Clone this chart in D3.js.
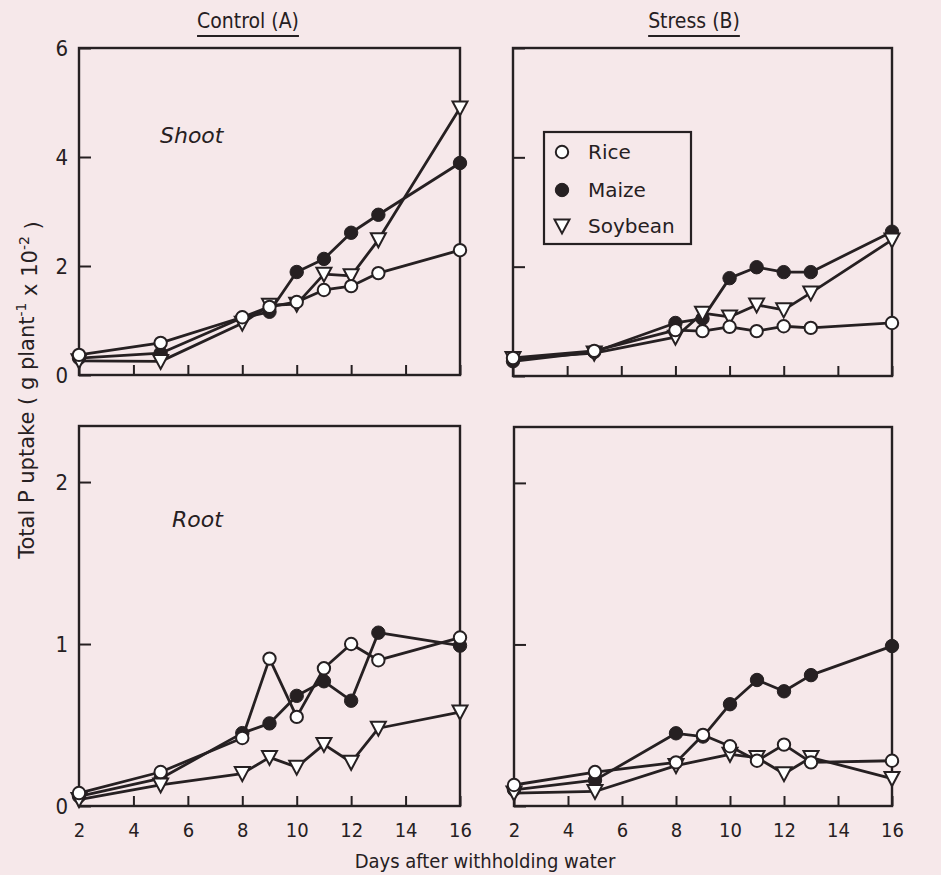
<!DOCTYPE html>
<html>
<head>
<meta charset="utf-8">
<script src="https://cdn.jsdelivr.net/npm/d3@7/dist/d3.min.js"></script>
<style>
  html, body { margin: 0; padding: 0; background: #f6e8ea; }
  svg { display: block; }
</style>
</head>
<body>
<svg id="chart" width="941" height="875"></svg>
<script>
// Days after withholding water at which P uptake was sampled
const days = [2, 5, 8, 9, 10, 11, 12, 13, 16];

// Total P uptake (g plant-1 x 10-2), shoot, control
const shootControlRice    = [0.37, 0.59, 1.06, 1.25, 1.34, 1.56, 1.63, 1.87, 2.29];
const shootControlMaize   = [0.31, 0.40, 1.05, 1.16, 1.89, 2.13, 2.61, 2.94, 3.89];
const shootControlSoybean = [0.26, 0.25, 0.95, 1.28, 1.30, 1.85, 1.82, 2.48, 4.90];

// shoot, water stress
const shootStressRice    = [0.33, 0.46, 0.84, 0.82, 0.90, 0.82, 0.91, 0.88, 0.97];
const shootStressMaize   = [0.27, 0.44, 0.97, 1.05, 1.79, 1.99, 1.90, 1.90, 2.64];
const shootStressSoybean = [0.32, 0.42, 0.71, 1.15, 1.08, 1.30, 1.21, 1.52, 2.49];

// root, control
const rootControlRice    = [0.08, 0.21, 0.42, 0.91, 0.55, 0.85, 1.00, 0.90, 1.04];
const rootControlMaize   = [0.06, 0.17, 0.45, 0.51, 0.68, 0.77, 0.65, 1.07, 0.99];
const rootControlSoybean = [0.04, 0.13, 0.20, 0.30, 0.24, 0.38, 0.27, 0.48, 0.58];

// root, water stress (no soybean sample on day 9)
const rootStressRice    = [0.13, 0.21, 0.27, 0.44, 0.37, 0.28, 0.38, 0.27, 0.28];
const rootStressMaize   = [0.10, 0.16, 0.45, 0.43, 0.63, 0.78, 0.71, 0.81, 0.99];
const rootStressSoybean = [0.08, 0.09, 0.25, null, 0.32, 0.30, 0.20, 0.30, 0.17];

const crops = ["Rice", "Maize", "Soybean"];
const xTicks = [2, 4, 6, 8, 10, 12, 14, 16];
const shootYTicks = [0, 2, 4, 6];
const rootYTicks = [0, 1, 2];
const columnTitles = ["Control (A)", "Stress (B)"];
const xTitle = "Days after withholding water";

const ink = "#262022";
const bg = "#f6e8ea";
const condensed = "'DejaVu Sans Condensed', 'DejaVu Sans', sans-serif";
const plain = "'DejaVu Sans', sans-serif";

const svg = d3.select("#chart");

const panels = [
  { x0: 79,  x1: 460, y0: 48,  y1: 375, yMax: 6,    yTicks: shootYTicks, label: "Shoot", labelXY: [160, 143],
    series: [shootControlRice, shootControlMaize, shootControlSoybean], yLabels: true, xLabels: false },
  { x0: 513, x1: 892, y0: 48,  y1: 376, yMax: 6,    yTicks: shootYTicks, legend: true,
    series: [shootStressRice, shootStressMaize, shootStressSoybean], yLabels: false, xLabels: false },
  { x0: 79,  x1: 460, y0: 426, y1: 806, yMax: 2.346, yTicks: rootYTicks, label: "Root", labelXY: [172, 527],
    series: [rootControlRice, rootControlMaize, rootControlSoybean], yLabels: true, xLabels: true },
  { x0: 514, x1: 892, y0: 427, y1: 806, yMax: 2.346, yTicks: rootYTicks,
    series: [rootStressRice, rootStressMaize, rootStressSoybean], yLabels: false, xLabels: true }
];

// marker drawing for each crop
function drawMarker(sel, crop) {
  if (crop === "Rice") {
    sel.append("circle").attr("r", 6.2).attr("fill", "#fff")
      .attr("stroke", ink).attr("stroke-width", 2);
  } else if (crop === "Maize") {
    sel.append("circle").attr("r", 6.7).attr("fill", ink)
      .attr("stroke", ink).attr("stroke-width", 1);
  } else {
    sel.append("path").attr("d", "M-7.5,-6.5L7.5,-6.5L0,7.5Z").attr("fill", "#fff")
      .attr("stroke", ink).attr("stroke-width", 2).attr("stroke-linejoin", "miter");
  }
}

panels.forEach(p => {
  const x = d3.scaleLinear().domain([2, 16]).range([p.x0, p.x1]);
  const y = d3.scaleLinear().domain([0, p.yMax]).range([p.y1, p.y0]);
  const g = svg.append("g");

  // y axis: inward ticks, labels on the left panels only
  const yAxis = d3.axisLeft(y).tickValues(p.yTicks)
    .tickSizeInner(-12).tickSizeOuter(0).tickPadding(11)
    .tickFormat(p.yLabels ? d3.format("d") : () => "");
  const ya = g.append("g").attr("transform", `translate(${p.x0},0)`).call(yAxis);
  ya.select(".domain").remove();
  ya.selectAll("line").attr("stroke", ink).attr("stroke-width", 2);
  ya.selectAll("text").attr("fill", ink).style("font-family", condensed).style("font-size", "22px");

  // x axis: inward ticks, labels on the bottom row only
  const xAxis = d3.axisBottom(x).tickValues(xTicks)
    .tickSizeInner(-10).tickSizeOuter(0).tickPadding(17)
    .tickFormat(p.xLabels ? d3.format("d") : () => "");
  const xa = g.append("g").attr("transform", `translate(0,${p.y1})`).call(xAxis);
  xa.select(".domain").remove();
  xa.selectAll("line").attr("stroke", ink).attr("stroke-width", 2);
  xa.selectAll("text").attr("fill", ink).style("font-family", condensed).style("font-size", "20px");

  // frame
  g.append("rect").attr("x", p.x0).attr("y", p.y0)
    .attr("width", p.x1 - p.x0).attr("height", p.y1 - p.y0)
    .attr("fill", "none").attr("stroke", ink).attr("stroke-width", 2.4);

  const line = d3.line().x(d => x(d.day)).y(d => y(d.v));

  // lines first, then markers on top
  const order = [1, 2, 0]; // maize, soybean, rice
  const pts = p.series.map(vals => days.map((day, i) => ({ day, v: vals[i] })).filter(d => d.v !== null));
  order.forEach(k => {
    g.append("path").datum(pts[k]).attr("d", line)
      .attr("fill", "none").attr("stroke", ink).attr("stroke-width", 2.8)
      .attr("stroke-linejoin", "round");
  });
  order.forEach(k => {
    pts[k].forEach(d => {
      const m = g.append("g").attr("transform", `translate(${x(d.day)},${y(d.v)})`);
      drawMarker(m, crops[k]);
    });
  });

  if (p.label) {
    g.append("text").attr("x", p.labelXY[0]).attr("y", p.labelXY[1])
      .attr("fill", ink).style("font-family", plain).style("font-style", "italic")
      .style("font-size", "22px").text(p.label);
  }

  if (p.legend) {
    const lg = g.append("g");
    lg.append("rect").attr("x", 544).attr("y", 132).attr("width", 147).attr("height", 112)
      .attr("fill", bg).attr("stroke", ink).attr("stroke-width", 2.2);
    const rowY = [152, 190, 226];
    crops.forEach((c, i) => {
      const m = lg.append("g").attr("transform", `translate(562,${rowY[i]})`);
      drawMarker(m, c);
      lg.append("text").attr("x", 588).attr("y", rowY[i]).attr("dy", "0.36em")
        .attr("fill", ink).style("font-family", plain).style("font-size", "20px").text(c);
    });
  }
});

// column titles, underlined
[[248, columnTitles[0]], [694, columnTitles[1]]].forEach(([cx, t]) => {
  const tx = svg.append("text").attr("x", cx).attr("y", 28).attr("text-anchor", "middle")
    .attr("fill", ink).style("font-family", condensed).style("font-size", "21px").text(t);
  const w = tx.node().getComputedTextLength();
  svg.append("line").attr("x1", cx - w / 2).attr("x2", cx + w / 2)
    .attr("y1", 36).attr("y2", 36).attr("stroke", ink).attr("stroke-width", 2);
});

// x axis title
svg.append("text").attr("x", 485).attr("y", 868).attr("text-anchor", "middle")
  .attr("fill", ink).style("font-family", condensed).style("font-size", "20px").text(xTitle);

// y axis title with superscripts
const yt = svg.append("text").attr("transform", "translate(27,390) rotate(-90)")
  .attr("text-anchor", "middle").attr("dominant-baseline", "central")
  .attr("fill", ink).style("font-family", plain).style("font-size", "21px");
yt.append("tspan").text("Total P uptake ( g plant");
yt.append("tspan").attr("dy", "-0.45em").style("font-size", "14px").text("-1");
yt.append("tspan").attr("dy", "0.45em").text(" x 10");
yt.append("tspan").attr("dy", "-0.45em").style("font-size", "14px").text("-2");
yt.append("tspan").attr("dy", "0.45em").text(" )");
</script>
</body>
</html>
